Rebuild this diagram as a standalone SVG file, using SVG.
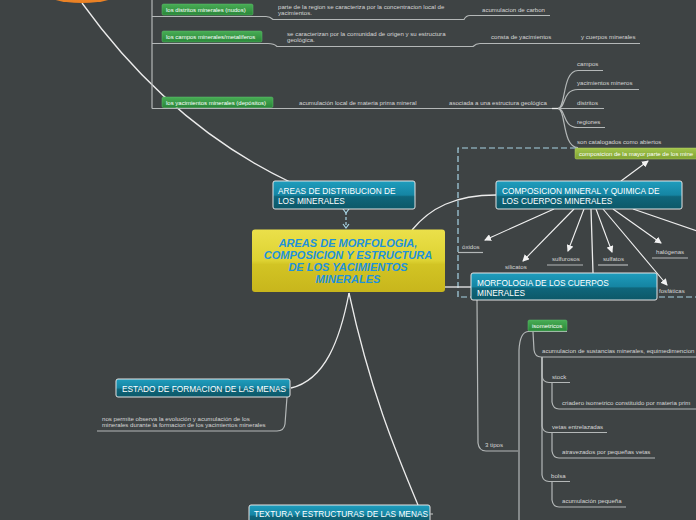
<svg xmlns="http://www.w3.org/2000/svg" width="696" height="520" viewBox="0 0 696 520">
<defs>
<linearGradient id="teal" x1="0" y1="0" x2="0" y2="1">
<stop offset="0" stop-color="#1f9dbd"/><stop offset="0.5" stop-color="#1585a3"/><stop offset="0.56" stop-color="#0f667b"/><stop offset="1" stop-color="#0c5868"/>
</linearGradient>
<linearGradient id="yellow" x1="0" y1="0" x2="0" y2="1">
<stop offset="0" stop-color="#ebe04a"/><stop offset="0.5" stop-color="#ddd232"/><stop offset="0.56" stop-color="#d2c424"/><stop offset="1" stop-color="#c8b61c"/>
</linearGradient>
<linearGradient id="green" x1="0" y1="0" x2="0" y2="1">
<stop offset="0" stop-color="#48ad55"/><stop offset="1" stop-color="#2a8739"/>
</linearGradient>
<linearGradient id="olive" x1="0" y1="0" x2="0" y2="1">
<stop offset="0" stop-color="#a3c64c"/><stop offset="1" stop-color="#7fa232"/>
</linearGradient>
<linearGradient id="orange" x1="0" y1="0" x2="0" y2="1">
<stop offset="0" stop-color="#f7a04a"/><stop offset="1" stop-color="#e97f22"/>
</linearGradient>
<marker id="arr" markerWidth="7" markerHeight="7" refX="6" refY="3.5" orient="auto" markerUnits="userSpaceOnUse">
<path d="M0,0 L7,3.5 L0,7 Z" fill="#f2f2f2"/>
</marker>
<marker id="chev" markerWidth="8" markerHeight="8" refX="4" refY="4" orient="auto" markerUnits="userSpaceOnUse">
<path d="M1,1 L5,4 L1,7" fill="none" stroke="#a8d4e4" stroke-width="1.2"/>
</marker>
</defs>
<style>
.bg{fill:#3e4344}
.w{fill:none;stroke:#ececec;stroke-width:1.3}
.u{fill:none;stroke:#b4b8b8;stroke-width:1.2}
.a{fill:none;stroke:#f2f2f2;stroke-width:1.1;marker-end:url(#arr)}
.d{fill:none;stroke:#a8d4e4;stroke-width:1.2;stroke-dasharray:6,3}
.lbl{font-family:"Liberation Sans",Arial,sans-serif;font-size:6.1px;fill:#d6d6d6}
.gt{font-family:"Liberation Sans",Arial,sans-serif;font-size:6px;fill:#ffffff}
.tt{font-family:"Liberation Sans",Arial,sans-serif;font-size:8.3px;fill:#ffffff}
.tb{fill:url(#teal);stroke:#e4e4e4;stroke-width:1}
.gb{fill:url(#green);stroke:#5fbf6c;stroke-width:0.5}
.ct{font-family:"Liberation Sans",Arial,sans-serif;font-size:11px;font-weight:bold;font-style:italic;fill:#1e92dc;text-anchor:middle}
</style>
<rect class="bg" x="0" y="0" width="696" height="520"/>

<g id="connectors">
<path class="w" d="M82,3 Q170,125 290,182"/>
<path class="u" d="M152,0 L152,108.5"/>
<path class="u" d="M152,16.5 L266,16.5 Q270,16.5 273,19.5 L464,19.5 Q466,15.5 470,15.5 L550,15.5"/>
<path class="u" d="M152,43.5 L268,43.5 Q274,43.5 277,46.5 L473,46.5 Q476,43.5 480,43.5 L640,43.5"/>
<path class="u" d="M152,108.5 L556,108.5"/>
<path class="w" d="M552,108.5 L561,108.5"/>
<path class="u" d="M558,108.5 C566,108.5 562,70.5 578,70.5 L603,70.5"/>
<path class="u" d="M558,108.5 C566,108.5 562,89.5 578,89.5 L639,89.5"/>
<path class="u" d="M558,108.5 L604,108.5"/>
<path class="u" d="M558,108.5 C566,108.5 562,127.5 578,127.5 L605,127.5"/>
<path class="u" d="M558,108.5 C566,108.5 562,147.5 578,147.5"/>
<path class="d" d="M576,148 L458,148 L458,297 L700,297"/>
<path d="M346,212 L346,227" fill="none" stroke="#a8d4e4" stroke-width="1.2" stroke-dasharray="3,2" marker-start="url(#chev)" marker-end="url(#chev)"/>
<path class="w" d="M412,230 C430,208 455,195 496,195"/>
<path class="w" d="M445,287 L471,287"/>
<path class="w" d="M591,209 L593,273"/>
<path class="a" d="M554,209 L485,240"/>
<path class="a" d="M574,209 L523,261"/>
<path class="a" d="M584,209 L568,251"/>
<path class="a" d="M596,209 L612,252"/>
<path class="a" d="M613,209 L661,243"/>
<path class="a" d="M603,209 L667,285"/>
<path class="a" d="M621,181 L648,161"/>
<path class="w" d="M633,209 L700,232"/>
<path class="u" d="M458,252.5 L483,252.5"/>
<path class="u" d="M547,265 L583,265"/>
<path class="u" d="M598,265 L628,265"/>
<path class="u" d="M652,258 L688,258"/>
<path class="w" d="M349,293 C340,340 325,380 291,388"/>
<path class="w" d="M349,293 C370,390 395,450 418,505"/>
<path class="u" d="M287,397 L285,424 Q284,431 277,431 L97,431"/>
<path class="u" d="M477,300 L478,443 Q479,451 486,451 L518,451"/>
<path class="u" d="M519,520 L519,350 Q520,332 528,331.5 L567,331.5"/>
<path class="u" d="M533,332 L534,350 Q535,357 541,357 L696,357"/>
<path class="u" d="M542,357 L542,376 Q543,382.5 549,382.5 L570,382.5"/>
<path class="u" d="M542,357 L542,426 Q543,432.5 549,432.5 L607,432.5"/>
<path class="u" d="M542,357 L542,475 Q543,481.5 549,481.5 L570,481.5"/>
<path class="u" d="M552,383 L552,402 Q553,409 559,409 L696,409"/>
<path class="u" d="M552,433 L552,451 Q553,458 559,458 L655,458"/>
<path class="u" d="M552,482 L552,500 Q553,507 559,507 L626,507"/>
</g>

<g id="root-ellipse"><ellipse cx="82" cy="-10" rx="41" ry="13" fill="url(#orange)"/></g>

<g id="n-distritos"><rect class="gb" x="162" y="4" width="91" height="11" rx="1.5"/><text class="gt" x="166" y="11.8">los distritos minerales (nudos)</text></g>
<g id="n-campos"><rect class="gb" x="162" y="31" width="100" height="11" rx="1.5"/><text class="gt" x="166" y="38.8">los campos minerales/metalíferos</text></g>
<g id="n-yacimientos"><rect class="gb" x="162" y="97" width="111" height="10.5" rx="1.5"/><text class="gt" x="166" y="104.6">los yacimientos minerales (depósitos)</text></g>

<g id="l-parte"><text class="lbl" x="278" y="8.5">parte de la region se caracteriza por la concentracion local de</text><text class="lbl" x="278" y="14.5">yacimientos.</text></g>
<g id="l-carbon"><text class="lbl" x="482" y="12">acumulacion de carbon</text></g>
<g id="l-secaract"><text class="lbl" x="287" y="36">se caracterizan por la comunidad de origen y su estructura</text><text class="lbl" x="287" y="42">geológica.</text></g>
<g id="l-consta"><text class="lbl" x="491" y="39">consta de yacimientos</text></g>
<g id="l-cuerpos"><text class="lbl" x="581" y="39">y cuerpos minerales</text></g>
<g id="l-acumlocal"><text class="lbl" x="299" y="105">acumulación local de materia prima mineral</text></g>
<g id="l-asociada"><text class="lbl" x="449" y="105">asociada a una estructura geológica</text></g>
<g id="l-campos"><text class="lbl" x="577" y="66">campos</text></g>
<g id="l-yacmin"><text class="lbl" x="577" y="85">yacimientos mineros</text></g>
<g id="l-distritos"><text class="lbl" x="577" y="104.5">distritos</text></g>
<g id="l-regiones"><text class="lbl" x="577" y="124">regiones</text></g>
<g id="l-abiertos"><text class="lbl" x="577" y="144">son catalogados como abiertos</text></g>
<g id="n-composicion-mayor"><rect x="575" y="148" width="125" height="11" rx="1.5" fill="url(#olive)" stroke="#b8d46a" stroke-width="0.5"/><text class="gt" x="579" y="155.8">composicion de la mayor parte de los mine</text></g>

<g id="n-areas"><rect class="tb" x="273" y="181" width="142" height="28" rx="2"/><text class="tt" x="278" y="194">AREAS DE DISTRIBUCION DE</text><text class="tt" x="278" y="204">LOS MINERALES</text></g>
<g id="n-central"><rect x="252" y="229.5" width="193" height="62.5" rx="3" fill="url(#yellow)"/><text class="ct" x="348" y="246.5">AREAS DE MORFOLOGIA,</text><text class="ct" x="348" y="258.8">COMPOSICION Y ESTRUCTURA</text><text class="ct" x="348" y="271">DE LOS YACIMIENTOS</text><text class="ct" x="348" y="283.3">MINERALES</text></g>
<g id="n-composicion"><rect class="tb" x="496" y="181" width="186" height="28" rx="2"/><text class="tt" x="502" y="194">COMPOSICION MINERAL Y QUIMICA DE</text><text class="tt" x="502" y="204">LOS CUERPOS MINERALES</text></g>

<g id="l-oxidos"><text class="lbl" x="462" y="249">óxidos</text></g>
<g id="l-silicatos"><text class="lbl" x="505" y="269">silicatos</text></g>
<g id="l-sulfurosos"><text class="lbl" x="552" y="261">sulfurosos</text></g>
<g id="l-sulfatos"><text class="lbl" x="603" y="261">sulfatos</text></g>
<g id="l-halogenas"><text class="lbl" x="656" y="253.5">halógenas</text></g>
<g id="l-fosfaticas"><text class="lbl" x="659" y="293">fosfáticas</text></g>

<g id="n-morfologia"><rect class="tb" x="471" y="273" width="186" height="27" rx="2"/><text class="tt" x="477" y="285.5">MORFOLOGIA DE LOS CUERPOS</text><text class="tt" x="477" y="295.5">MINERALES</text></g>

<g id="n-estado"><rect class="tb" x="116" y="379" width="174" height="18" rx="2"/><text class="tt" x="122" y="391.5">ESTADO DE FORMACION DE LAS MENAS</text></g>
<g id="l-nospermite"><text class="lbl" x="102" y="420.5">nos permite observa la evolución y acumulación de los</text><text class="lbl" x="102" y="427">minerales durante la formacion de los yacimientos  minerales</text></g>
<g id="n-textura"><rect class="tb" x="249" y="505" width="181" height="20" rx="2"/><path class="u" d="M430,514 L433,514"/><text class="tt" x="254" y="517">TEXTURA Y ESTRUCTURAS DE LAS MENAS</text></g>

<g id="l-3tipos"><text class="lbl" x="485" y="447">3 tipos</text></g>
<g id="n-isometricos"><rect class="gb" x="528" y="320" width="39" height="11" rx="1.5"/><text class="gt" x="532" y="327.6">isometricos</text></g>
<g id="l-acumsust"><text class="lbl" x="542" y="353">acumulacion de sustancias minerales, equimedimencion</text></g>
<g id="l-stock"><text class="lbl" x="552" y="379">stock</text></g>
<g id="l-criadero"><text class="lbl" x="562" y="405">criadero isometrico  constituido por materia prim</text></g>
<g id="l-vetas"><text class="lbl" x="552" y="428.5">vetas entrelazadas</text></g>
<g id="l-atravezados"><text class="lbl" x="562" y="454">atravezados por pequeñas vetas</text></g>
<g id="l-bolsa"><text class="lbl" x="551" y="477.5">bolsa</text></g>
<g id="l-acumpeq"><text class="lbl" x="562" y="503">acumulación pequeña</text></g>
</svg>
